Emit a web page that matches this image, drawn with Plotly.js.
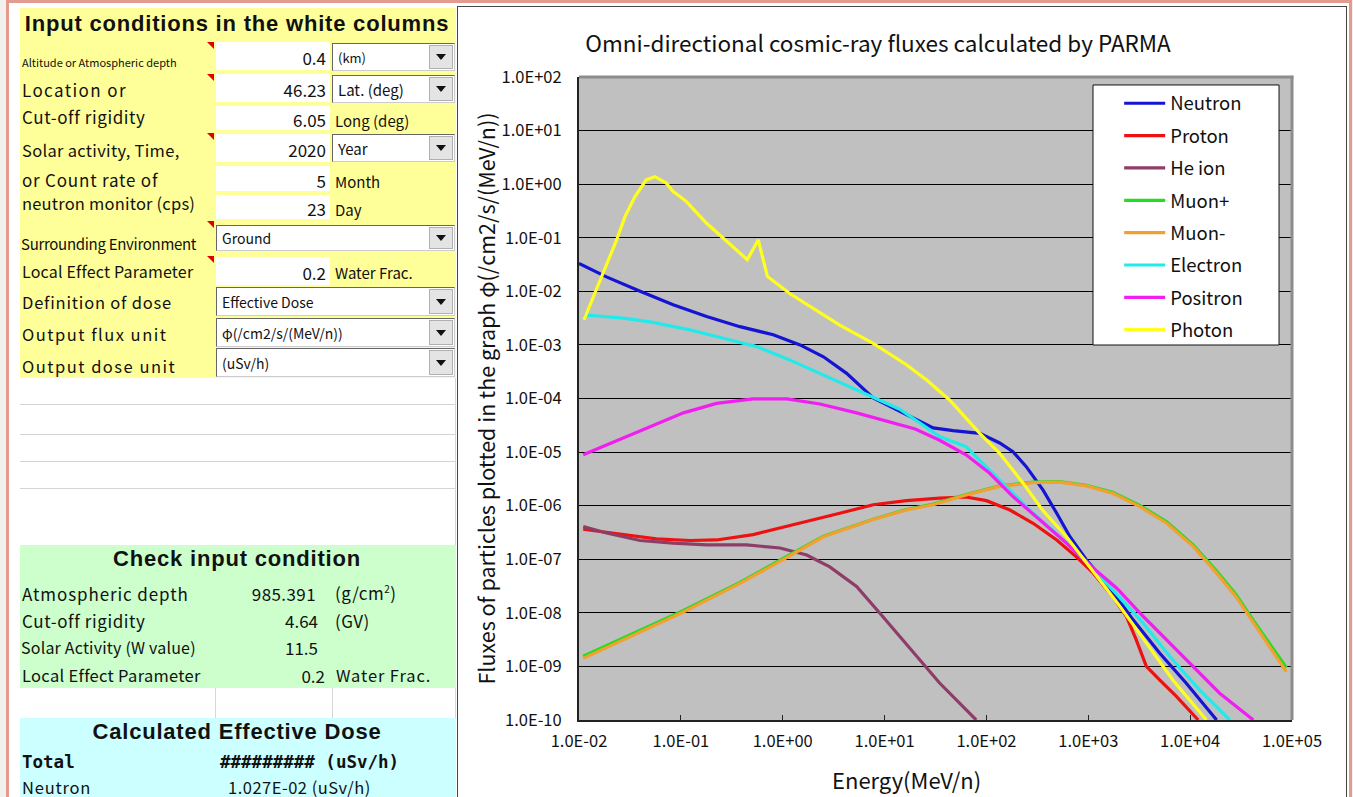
<!DOCTYPE html>
<html><head><meta charset="utf-8">
<script src="https://cdn.plot.ly/plotly-3.0.1.min.js"></script>
<style>
body{margin:0;width:1353px;height:797px;overflow:hidden;background:#f3f1ee;position:relative;font-family:"Noto Sans CJK JP","Noto Sans",sans-serif;color:#111;}
.a{position:absolute;white-space:nowrap;line-height:1;}
#frame{position:absolute;left:6px;top:0px;width:1340px;height:820px;background:#fff;border:3px solid #e39a8f;}
#chartbox{position:absolute;left:457px;top:6px;width:888px;height:820px;border:1px solid #444;background:#fff;}
#chart{position:absolute;left:458px;top:7px;width:888px;height:790px;}
</style>
</head><body>
<div id="frame"></div>
<div id="sheet"></div>
<div id="chartbox"></div>
<div id="chart"></div>
<script>
// ---------------- data ----------------
const neutronE = [1.0e-2,1.86e-2,3.98e-2,8.4e-2,0.179,0.38,0.807,1.48,2.51,4.24,7.73,14.1,30.0,47.1,86.1,135,182,245,360,490,661,955,1514,2754,5012,9120,18200];
const neutronF = [3.3e-2,1.86e-2,1.0e-2,5.6e-3,3.4e-3,2.19e-3,1.55e-3,1.0e-3,6.0e-4,2.95e-4,1.02e-4,5.75e-5,2.82e-5,2.51e-5,2.24e-5,1.48e-5,1.02e-5,5.4e-6,1.95e-6,7.2e-7,2.63e-7,9.8e-8,3.55e-8,7.4e-9,1.78e-9,4.9e-10,1.0e-10];

const protonE = [1.1e-2,2.72e-2,5.75e-2,0.123,0.224,0.513,0.94,1.72,3.63,7.73,16.4,34.7,63.1,100,170,287,490,759,1122,1738,2371,2951,3715,5012,7328,12000];
const protonF = [3.63e-7,2.88e-7,2.4e-7,2.24e-7,2.29e-7,2.88e-7,3.8e-7,5.0e-7,7.2e-7,1.04e-6,1.24e-6,1.38e-6,1.45e-6,1.24e-6,8.3e-7,4.7e-7,2.29e-7,1.12e-7,5.5e-8,2.0e-8,8.5e-9,3.16e-9,1.0e-9,5.6e-10,2.75e-10,1.0e-10];

const heE = [1.1e-2,1.86e-2,3.98e-2,8.4e-2,0.179,0.442,0.94,1.72,2.9,5.31,9.0,14.1,25.7,34.7,79.4];
const heF = [4.07e-7,3.09e-7,2.24e-7,2.0e-7,1.86e-7,1.86e-7,1.62e-7,1.2e-7,7.2e-8,3.1e-8,9.8e-9,3.63e-9,1.0e-9,4.9e-10,1.0e-10];

const muonE = [1.1e-2,2.72e-2,0.1,0.38,1.01,2.51,7.73,16.4,30.0,63.1,135,287,525,955,1738,3236,5888,10700,18200,28200,41700,60300,88100];
const muonPlusF = [1.55e-9,3.4e-9,1.05e-8,3.7e-8,1.02e-7,2.7e-7,5.6e-7,8.5e-7,1.07e-6,1.62e-6,2.34e-6,2.75e-6,2.82e-6,2.4e-6,1.78e-6,1.0e-6,5.0e-7,1.86e-7,6.0e-8,2.2e-8,7.2e-9,2.6e-9,9.5e-10];
const muonMinusF = [1.41e-9,3.16e-9,9.8e-9,3.55e-8,9.8e-8,2.63e-7,5.5e-7,8.3e-7,1.04e-6,1.58e-6,2.29e-6,2.69e-6,2.75e-6,2.34e-6,1.7e-6,9.5e-7,4.7e-7,1.74e-7,5.5e-8,2.0e-8,6.5e-9,2.34e-9,7.9e-10];

const electronE = [1.12e-2,2.72e-2,5.0e-2,0.123,0.261,0.555,1.17,2.51,5.31,9.0,14.1,34.7,63.1,135,287,525,955,1738,3236,6761,12300,24500];
const electronF = [3.63e-3,3.16e-3,2.69e-3,1.91e-3,1.33e-3,9.3e-4,5.25e-4,2.75e-4,1.45e-4,9.3e-5,6.3e-5,1.95e-5,1.26e-5,3.0e-6,7.2e-7,2.63e-7,9.1e-8,2.69e-8,7.4e-9,1.32e-9,3.7e-10,1.0e-10];

const positronE = [1.1e-2,2.72e-2,5.75e-2,0.106,0.224,0.513,1.10,2.32,5.31,11.2,20.0,34.7,63.1,107,182,331,611,1023,1905,3236,5888,10700,19500,41700];
const positronF = [8.9e-6,1.82e-5,3.24e-5,5.4e-5,8.1e-5,9.8e-5,9.8e-5,7.9e-5,5.4e-5,3.7e-5,2.69e-5,1.66e-5,8.9e-6,4.07e-6,1.48e-6,5.5e-7,2.0e-7,7.9e-8,2.88e-8,9.8e-9,3.16e-9,1.0e-9,3.16e-10,1.0e-10];

const photonE = [1.12e-2,2.34e-2,2.82e-2,3.55e-2,4.57e-2,5.57e-2,7.24e-2,8.4e-2,9.8e-2,0.114,0.179,0.261,0.449,0.575,0.708,1.17,2.0,3.63,7.73,16.4,25.7,43.7,86,135,229,355,611,1023,2042,3715,6761,14450];
const photonF = [2.95e-3,9.1e-2,0.245,0.589,1.20,1.38,1.04,0.724,0.589,0.468,0.186,9.8e-2,3.9e-2,9.1e-2,1.9e-2,9.1e-3,4.8e-3,2.34e-3,1.07e-3,4.27e-4,2.24e-4,9.3e-5,2.24e-5,9.5e-6,2.63e-6,8.3e-7,2.63e-7,7.2e-8,1.32e-8,2.75e-9,5.6e-10,1.0e-10];

const seriesNames = ['Neutron','Proton','He ion','Muon+','Muon-','Electron','Positron','Photon'];
const seriesColors = ['#1414d2','#ee1111','#8e3d68','#22dd22','#f2a030','#22eaea','#f01ef0','#ffff1e'];
const xTickVals = [1e-2,1e-1,1e0,1e1,1e2,1e3,1e4,1e5];
const xTickText = ['1.0E-02','1.0E-01','1.0E+00','1.0E+01','1.0E+02','1.0E+03','1.0E+04','1.0E+05'];
const yTickVals = [1e2,1e1,1e0,1e-1,1e-2,1e-3,1e-4,1e-5,1e-6,1e-7,1e-8,1e-9,1e-10];
const yTickText = ['1.0E+02','1.0E+01','1.0E+00','1.0E-01','1.0E-02','1.0E-03','1.0E-04','1.0E-05','1.0E-06','1.0E-07','1.0E-08','1.0E-09','1.0E-10'];

// ---------------- spreadsheet panel (HTML) ----------------
const sheet = document.getElementById('sheet');
function box(l,t,w,h,st){const d=document.createElement('div');d.className='a';d.style.cssText+=`left:${l}px;top:${t}px;width:${w}px;height:${h}px;`+(st||'');sheet.appendChild(d);return d;}
function txt(x,y,s,size,align,st){const d=document.createElement('div');d.className='a';d.innerHTML=s;
  let tr='translateY(-50%)';
  if(align==='right'){d.style.right=(1353-x)+'px';}
  else if(align==='center'){d.style.left=x+'px';tr='translate(-50%,-50%)';}
  else d.style.left=x+'px';
  d.style.top=y+'px';d.style.fontSize=size+'px';d.style.transform=tr;d.style.cssText+=(st||'');sheet.appendChild(d);return d;}
function tri(x,y){box(x,y,0,0,'width:0;height:0;border-top:7px solid #e00000;border-left:7px solid transparent;');}
function dropdown(l,t,w,h,label,size){
  box(l,t,w,h,'background:#fff;border-top:1px solid #666;border-left:1px solid #666;border-bottom:1px solid #ccc;border-right:1px solid #ccc;box-sizing:border-box;');
  box(l+w-26,t+2,24,h-4,'background:#e4e4e4;border:1px solid #b0b0b0;box-sizing:border-box;');
  box(l+w-19,t+h/2-3,0,0,'width:0;height:0;border-top:6px solid #111;border-left:5px solid transparent;border-right:5px solid transparent;');
  txt(l+6,t+h/2,label,size||14,'left');
}
const HB='font-family:"Liberation Sans",Arial,sans-serif;font-weight:bold;letter-spacing:0.8px;';
// yellow input block
box(20,8,436,370,'background:#ffff99;');
txt(237,24,'Input conditions in the white columns',22,'center',HB);
// value cells
const valCells=[[42,28,'0.4'],[74,28,'46.23'],[106,24,'6.05'],[134,28,'2020'],[166,25,'5'],[195,24,'23'],[257,28,'0.2']];
valCells.forEach(v=>{box(216,v[0],114,v[1],'background:#fff;');txt(326,v[0]+v[1]/2+1,v[2],17,'right');});
dropdown(332,43,123,28,'(km)',13);
dropdown(332,75,123,28,'Lat. (deg)',15);
dropdown(332,134,123,28,'Year',15);
txt(335,120,'Long (deg)',15,'left');
txt(335,181,'Month',15,'left');
txt(335,209,'Day',15,'left');
txt(335,272,'Water Frac.',15,'left');
dropdown(216,225,239,26,'Ground',14);
dropdown(216,287,239,29,'Effective Dose',14);
dropdown(216,318,239,29,'φ(/cm2/s/(MeV/n))',14);
dropdown(216,348,239,29,'(uSv/h)',14);
// labels
txt(22,62,'Altitude or Atmospheric depth',11,'left');
txt(22,89,'Location or',17,'left','letter-spacing:1.4px;');
txt(22,116,'Cut-off rigidity',17,'left','letter-spacing:0.6px;');
txt(22,150,'Solar activity, Time,',16.5,'left','letter-spacing:0.3px;');
txt(22,179,'or Count rate of',17,'left','letter-spacing:0.8px;');
txt(22,203,'neutron monitor (cps)',16.5,'left','letter-spacing:0.2px;');
txt(21,243,'Surrounding Environment',15,'left','letter-spacing:-0.3px;');
txt(22,271,'Local Effect Parameter',16,'left','letter-spacing:0.2px;');
txt(22,302,'Definition of dose',16.5,'left','letter-spacing:0.8px;');
txt(22,334,'Output flux unit',16.5,'left','letter-spacing:1.5px;');
txt(22,366,'Output dose unit',16.5,'left','letter-spacing:1.5px;');
tri(207,42);tri(207,74);tri(207,133);tri(207,221);tri(207,256);
// white rows
[404,434,461,488].forEach(y=>box(20,y,436,1,'background:#d4d4d4;'));
box(455,378,1,167,'background:#d4d4d4;');
// green block
box(20,545,436,143,'background:#ccffcc;');
txt(237,559,'Check input condition',22,'center',HB);
txt(22,593,'Atmospheric depth',17,'left','letter-spacing:0.9px;');
txt(316,593,'985.391',17,'right','letter-spacing:0.4px;');
txt(335,592,'(g/cm<sup style="font-size:10px">2</sup>)',17,'left','letter-spacing:0.5px;');
txt(22,620,'Cut-off rigidity',17,'left','letter-spacing:0.6px;');
txt(318,620,'4.64',17,'right');
txt(335,620,'(GV)',17,'left','letter-spacing:0.5px;');
txt(21,647,'Solar Activity (W value)',16,'left','letter-spacing:0.2px;');
txt(318,647,'11.5',17,'right');
txt(22,675,'Local Effect Parameter',16.5,'left','letter-spacing:0.3px;');
txt(325,675,'0.2',17,'right');
txt(336,675,'Water Frac.',16.5,'left','letter-spacing:0.9px;');
// white row with cell borders
box(215,688,1,30,'background:#d8d8d8;');box(332,688,1,30,'background:#d8d8d8;');box(455,688,1,30,'background:#d8d8d8;');
// cyan block
box(20,718,436,90,'background:#ccffff;');
txt(237,732,'Calculated Effective Dose',22,'center',HB);
txt(22,763,'Total',17.5,'left','font-family:"DejaVu Sans Mono",monospace;font-weight:bold;');
txt(220,763,'######### (uSv/h)',17.5,'left','font-family:"DejaVu Sans Mono",monospace;font-weight:bold;');
txt(22,787,'Neutron',16.5,'left','letter-spacing:0.8px;');
txt(228,787,'1.027E-02 (uSv/h)',16.5,'left','letter-spacing:0.5px;');

// ---------------- chart ----------------
const xs=[neutronE,protonE,heE,muonE,muonE,electronE,positronE,photonE];
const ys=[neutronF,protonF,heF,muonPlusF,muonMinusF,electronF,positronF,photonF];
const traces = seriesNames.map((n,i)=>({
  type:'scatter',mode:'lines',name:n,x:xs[i],y:ys[i],legendgroup:'g'+i,
  line:{color:seriesColors[i],width:3.2}
}));
const F='"Noto Sans CJK JP","Noto Sans",sans-serif';
const layout={
  width:888,height:790,
  margin:{l:121,r:54,t:70,b:77},
  paper_bgcolor:'#ffffff',plot_bgcolor:'#c0c0c0',
  font:{family:F,color:'#111',size:16},
  title:{text:'Omni-directional cosmic-ray fluxes calculated by PARMA',x:0.473,xref:'container',y:0.953,yref:'container',xanchor:'center',yanchor:'middle',font:{family:F,size:22.5,color:'#111'}},
  xaxis:{type:'log',range:[-2,5],tickvals:xTickVals,ticktext:xTickText,showgrid:false,zeroline:false,
    showline:true,linecolor:'#222',linewidth:2,ticks:'inside',ticklen:5,tickcolor:'#222',tickwidth:1,
    tickfont:{family:F,size:16.5,color:'#111'},ticklabelstandoff:5},
  yaxis:{type:'log',range:[-10,2],tickvals:yTickVals,ticktext:yTickText,showgrid:true,gridcolor:'#000',gridwidth:1,zeroline:false,
    showline:true,linecolor:'#222',linewidth:2,ticks:'',
    tickfont:{family:F,size:16.5,color:'#111'},ticklabelstandoff:12,
    title:{text:'Fluxes of particles plotted in the graph φ(/cm2/s/(MeV/n))',font:{family:F,size:21.5,color:'#111'},standoff:0}},
  annotations:[
    {text:'Energy(MeV/n)',xref:'paper',yref:'paper',x:0.46,y:-0.0918,xanchor:'center',yanchor:'middle',showarrow:false,font:{family:F,size:22,color:'#111'}}
  ],
  showlegend:true,
  legend:{x:0.7576,y:0.988,xanchor:'left',yanchor:'top',bgcolor:'rgba(0,0,0,0)',borderwidth:0,
    font:{family:F,size:18.5,color:'#111'},tracegroupgap:5.3,traceorder:'grouped',itemwidth:41},
  shapes:[
    {type:'rect',xref:'paper',yref:'paper',x0:0.7209,x1:0.9818,y0:0.5832,y1:0.9876,fillcolor:'#ffffff',line:{color:'#111',width:1},layer:'above'},
    {type:'line',xref:'paper',yref:'paper',x0:0,x1:1.002,y0:1,y1:1,line:{color:'#8c8c8c',width:3},layer:'above'},
    {type:'line',xref:'paper',yref:'paper',x0:1,x1:1,y0:0,y1:1.002,line:{color:'#8c8c8c',width:3},layer:'above'}
  ]
};
Plotly.newPlot('chart',traces,layout,{displayModeBar:false,staticPlot:true});
</script>
</body></html>
